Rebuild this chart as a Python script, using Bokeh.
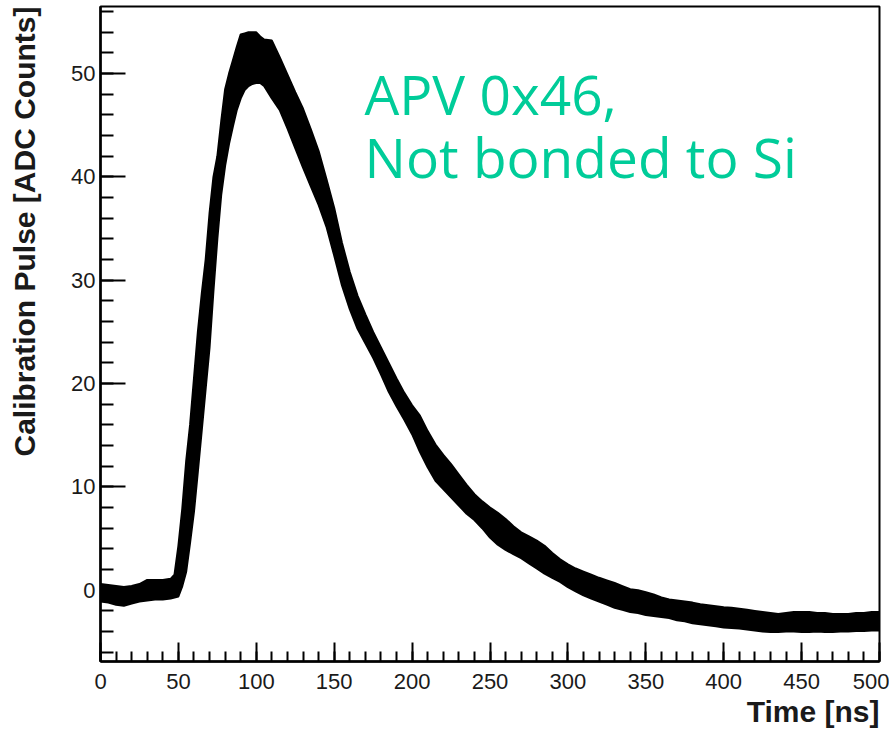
from bokeh.plotting import figure
from bokeh.models import Range1d, SingleIntervalTicker, Label, Title
from bokeh.embed import file_html
from bokeh.resources import INLINE

# ---- data (band of overlaid calibration pulses) ----
time_ns = [0, 5, 10, 15, 20, 25, 30, 35, 40, 45,
           47.5, 50, 52.5, 55, 57.5, 60, 62.5, 65, 67.5, 70, 72.5, 75, 77.5, 80,
           82.5, 85, 87.5, 90, 92.5, 95, 97.5, 100, 102.5, 105,
           110, 115, 120, 125, 130, 135, 140, 145, 150, 155, 160, 165, 170, 175,
           180, 185, 190, 195, 200, 205, 210, 215, 220, 225, 230, 235, 240, 245,
           250, 255, 260, 265, 270, 275, 280, 285, 290, 295, 300, 305, 310, 315,
           320, 325, 330, 335, 340, 345, 350, 355, 360, 365, 370, 375, 380, 385,
           390, 395, 400, 405, 410, 415, 420, 425, 430, 435, 440, 445, 450, 455,
           460, 465, 470, 475, 480, 485, 490, 495, 500]
pulse_upper = [0.6, 0.5, 0.4, 0.3, 0.4, 0.6, 1.0, 1.0, 1.0, 1.1,
               1.5, 4.3, 7.9, 12.5, 16.0, 20.5, 25.0, 28.7, 32.0, 36.5, 40.0, 42.0, 45.4, 48.5,
               50.0, 51.3, 52.6, 53.8, 53.9, 54.0, 54.0, 54.0, 53.6, 53.3,
               53.2, 51.6, 49.9, 48.2, 46.6, 44.6, 42.5, 39.8, 37.0, 33.6, 30.8, 28.5, 26.7, 25.0,
               23.5, 22.0, 20.5, 19.1, 17.9, 16.9, 15.4, 14.1, 13.1, 12.2, 11.2, 10.2, 9.3, 8.6,
               8.0, 7.5, 6.9, 6.2, 5.6, 5.2, 4.8, 4.3, 3.6, 3.0, 2.5, 2.1, 1.8, 1.5,
               1.2, 0.95, 0.7, 0.4, 0.1, 0.0, -0.2, -0.4, -0.7, -0.9, -1.0, -1.1, -1.2, -1.35,
               -1.45, -1.55, -1.65, -1.7, -1.8, -1.9, -2.0, -2.1, -2.2, -2.3, -2.2, -2.1, -2.1, -2.1,
               -2.2, -2.2, -2.3, -2.3, -2.3, -2.2, -2.2, -2.1, -2.1]
pulse_lower = [-1.1, -1.2, -1.4, -1.5, -1.3, -1.1, -1.0, -0.9, -0.9, -0.8,
               -0.7, -0.6, 0.4, 1.8, 4.6, 7.6, 11.5, 15.5, 19.5, 23.5, 29.0, 34.0, 38.3, 41.1,
               43.2, 44.9, 46.5, 47.6, 48.4, 48.8, 49.0, 49.1, 49.1, 48.8,
               47.6, 46.5, 44.7, 42.8, 40.9, 39.1, 37.3, 35.2, 32.4, 29.5, 27.2, 25.3, 23.9, 22.5,
               20.9, 19.2, 17.8, 16.5, 15.1, 13.4, 11.9, 10.6, 9.8, 9.0, 8.2, 7.4, 6.8, 6.0,
               5.1, 4.4, 3.9, 3.5, 3.1, 2.6, 2.1, 1.6, 1.2, 0.8, 0.3, -0.1, -0.5, -0.8,
               -1.1, -1.4, -1.7, -1.9, -2.1, -2.2, -2.4, -2.5, -2.6, -2.7, -2.9, -3.0, -3.2, -3.3,
               -3.4, -3.5, -3.6, -3.65, -3.7, -3.8, -3.9, -4.0, -4.05, -4.05, -4.0, -4.0, -4.05, -4.05,
               -4.0, -4.05, -4.05, -4.0, -4.0, -3.95, -3.95, -3.9, -3.9]

x_title = "Time [ns]"
y_title = "Calibration Pulse [ADC Counts]"
note_line1 = "APV 0x46,"
note_line2 = "Not bonded to Si"

W, H = 889, 732
p = figure(width=W, height=H, output_backend="svg", toolbar_location=None,
           x_range=Range1d(0, 500), y_range=Range1d(-6.9, 56.5),
           min_border_left=100, min_border_right=10, min_border_top=6, min_border_bottom=71)
p.grid.visible = False
p.background_fill_color = "white"
p.border_fill_color = "white"
p.outline_line_color = "black"
p.outline_line_width = 2

p.varea(x=time_ns, y1=pulse_lower, y2=pulse_upper, fill_color="black", fill_alpha=1.0)
p.line(x=time_ns, y=pulse_upper, line_color="black", line_width=2)
p.line(x=time_ns, y=pulse_lower, line_color="black", line_width=2)

for ax, (interval, maj, mnr) in ((p.xaxis[0], (50, 19, 10)), (p.yaxis[0], (10, 25, 13))):
    ax.ticker = SingleIntervalTicker(interval=interval, num_minor_ticks=5)
    ax.axis_line_color = "black"
    ax.axis_line_width = 2.5
    ax.major_tick_line_color = "black"
    ax.major_tick_line_width = 2
    ax.minor_tick_line_color = "black"
    ax.minor_tick_line_width = 2
    ax.major_tick_in = maj
    ax.major_tick_out = 0
    ax.minor_tick_in = mnr
    ax.minor_tick_out = 0
    ax.major_label_text_font = "Liberation Sans"
    ax.major_label_text_font_size = "22px"
    ax.major_label_text_color = "#1a1a1a"

p.xaxis.major_label_standoff = 12
p.yaxis.major_label_standoff = 5

# spacer between the y tick labels and the y title (ROOT places it far left)
p.add_layout(Title(text=" ", text_font_size="2px", standoff=14), "left")
p.add_layout(Title(text=y_title, align="right", vertical_align="top", standoff=15,
                   text_font="Liberation Sans", text_font_style="bold",
                   text_font_size="30px", text_color="#1a1a1a"), "left")
p.add_layout(Title(text=x_title, align="right", standoff=3,
                   text_font="Liberation Sans", text_font_style="bold",
                   text_font_size="30px", text_color="#1a1a1a"), "below")

p.add_layout(Label(x=264, y=568, x_units="screen", y_units="screen", text=note_line1,
                   text_align="left", text_baseline="alphabetic",
                   text_font="Open Sans", text_font_size="55px", text_color="#00cc99"))
p.add_layout(Label(x=264, y=505, x_units="screen", y_units="screen", text=note_line2,
                   text_align="left", text_baseline="alphabetic",
                   text_font="Open Sans", text_font_size="55px", text_color="#00cc99"))

open("out.html", "w").write(file_html(p, INLINE))
